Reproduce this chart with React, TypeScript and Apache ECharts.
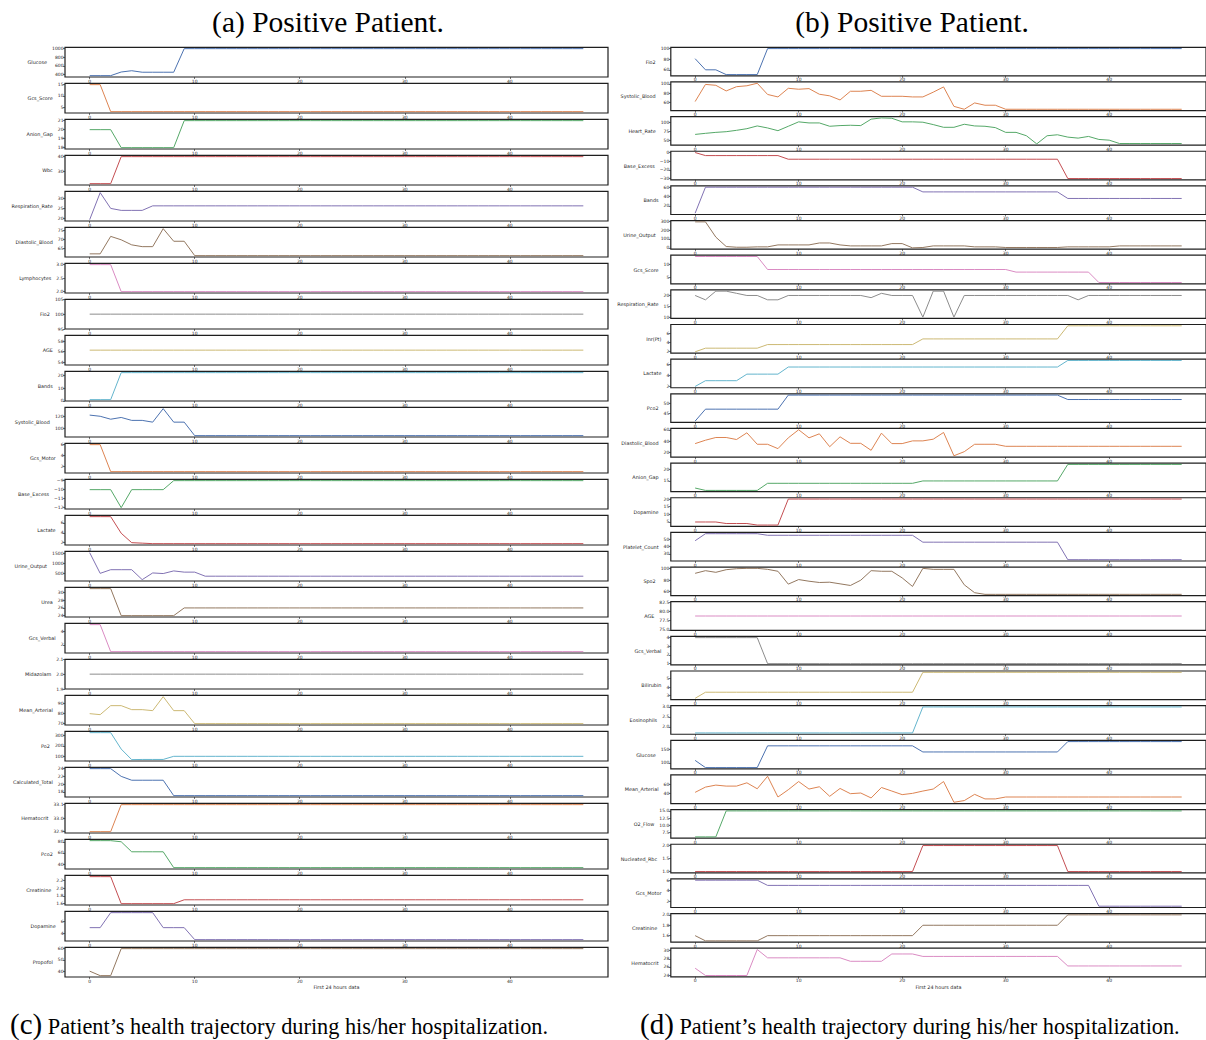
import React, { useEffect, useRef } from "react";
import * as echarts from "echarts";

const PALETTE = ["#4C72B0", "#DD8452", "#55A868", "#C44E52", "#8172B3", "#937860", "#DA8BC3", "#8C8C8C", "#CCB974", "#64B5CD"];
const X_TICKS = [0, 10, 20, 30, 40];

// ---------- (a)/(c) left patient ----------
const glucoseL = [370,370,370,455,485,450,450,450,450,1000,1000,1000,
1000,1000,1000,1000,1000,1000,1000,1000,1000,1000,1000,1000,
1000,1000,1000,1000,1000,1000,1000,1000,1000,1000,1000,1000,
1000,1000,1000,1000,1000,1000,1000,1000,1000,1000,1000,1000];
const gcsScoreL = [15,15,3,3,3,3,3,3,3,3,3,3,
3,3,3,3,3,3,3,3,3,3,3,3,
3,3,3,3,3,3,3,3,3,3,3,3,
3,3,3,3,3,3,3,3,3,3,3,3];
const anionGapL = [20,20,20,18,18,18,18,18,18,21,21,21,
21,21,21,21,21,21,21,21,21,21,21,21,
21,21,21,21,21,21,21,21,21,21,21,21,
21,21,21,21,21,21,21,21,21,21,21,21];
const wbcL = [21.5,21.5,21.5,40,40,40,40,40,40,40,40,40,
40,40,40,40,40,40,40,40,40,40,40,40,
40,40,40,40,40,40,40,40,40,40,40,40,
40,40,40,40,40,40,40,40,40,40,40,40];
const respRateL = [19.3,33,25,24,24,24,26.3,26.3,26.3,26.3,26.3,26.3,
26.3,26.3,26.3,26.3,26.3,26.3,26.3,26.3,26.3,26.3,26.3,26.3,
26.3,26.3,26.3,26.3,26.3,26.3,26.3,26.3,26.3,26.3,26.3,26.3,
26.3,26.3,26.3,26.3,26.3,26.3,26.3,26.3,26.3,26.3,26.3,26.3];
const diastolicL = [62,62,71.7,69.8,67,66,66,76,69,69,61,61,
61,61,61,61,61,61,61,61,61,61,61,61,
61,61,61,61,61,61,61,61,61,61,61,61,
61,61,61,61,61,61,61,61,61,61,61,61];
const lymphoL = [3,3,3,2,2,2,2,2,2,2,2,2,
2,2,2,2,2,2,2,2,2,2,2,2,
2,2,2,2,2,2,2,2,2,2,2,2,
2,2,2,2,2,2,2,2,2,2,2,2];
const fio2L = [100,100,100,100,100,100,100,100,100,100,100,100,
100,100,100,100,100,100,100,100,100,100,100,100,
100,100,100,100,100,100,100,100,100,100,100,100,
100,100,100,100,100,100,100,100,100,100,100,100];
const ageL = [56.3,56.3,56.3,56.3,56.3,56.3,56.3,56.3,56.3,56.3,56.3,56.3,
56.3,56.3,56.3,56.3,56.3,56.3,56.3,56.3,56.3,56.3,56.3,56.3,
56.3,56.3,56.3,56.3,56.3,56.3,56.3,56.3,56.3,56.3,56.3,56.3,
56.3,56.3,56.3,56.3,56.3,56.3,56.3,56.3,56.3,56.3,56.3,56.3];
const bandsL = [1,1,1,22,22,22,22,22,22,22,22,22,
22,22,22,22,22,22,22,22,22,22,22,22,
22,22,22,22,22,22,22,22,22,22,22,22,
22,22,22,22,22,22,22,22,22,22,22,22];
const systolicL = [122,120,115,118,113,113,110,133,110,110,87,87,
87,87,87,87,87,87,87,87,87,87,87,87,
87,87,87,87,87,87,87,87,87,87,87,87,
87,87,87,87,87,87,87,87,87,87,87,87];
const gcsMotorL = [6,6,1,1,1,1,1,1,1,1,1,1,
1,1,1,1,1,1,1,1,1,1,1,1,
1,1,1,1,1,1,1,1,1,1,1,1,
1,1,1,1,1,1,1,1,1,1,1,1];
const baseExcessL = [-10,-10,-10,-12,-10,-10,-10,-10,-9,-9,-9,-9,
-9,-9,-9,-9,-9,-9,-9,-9,-9,-9,-9,-9,
-9,-9,-9,-9,-9,-9,-9,-9,-9,-9,-9,-9,
-9,-9,-9,-9,-9,-9,-9,-9,-9,-9,-9,-9];
const lactateL = [7.25,7.25,7.25,3.9,2.0,1.9,1.8,1.8,1.8,1.8,1.8,1.8,
1.8,1.8,1.8,1.8,1.8,1.8,1.8,1.8,1.8,1.8,1.8,1.8,
1.8,1.8,1.8,1.8,1.8,1.8,1.8,1.8,1.8,1.8,1.8,1.8,
1.8,1.8,1.8,1.8,1.8,1.8,1.8,1.8,1.8,1.8,1.8,1.8];
const urineL = [1520,500,680,680,680,190,520,490,620,560,560,360,
360,360,360,360,360,360,360,360,360,360,360,360,
360,360,360,360,360,360,360,360,360,360,360,360,
360,360,360,360,360,360,360,360,360,360,360,360];
const ureaL = [31,31,31,24,24,24,24,24,24,26,26,26,
26,26,26,26,26,26,26,26,26,26,26,26,
26,26,26,26,26,26,26,26,26,26,26,26,
26,26,26,26,26,26,26,26,26,26,26,26];
const gcsVerbalL = [5,5,1,1,1,1,1,1,1,1,1,1,
1,1,1,1,1,1,1,1,1,1,1,1,
1,1,1,1,1,1,1,1,1,1,1,1,
1,1,1,1,1,1,1,1,1,1,1,1];
const midazolamL = [2,2,2,2,2,2,2,2,2,2,2,2,
2,2,2,2,2,2,2,2,2,2,2,2,
2,2,2,2,2,2,2,2,2,2,2,2,
2,2,2,2,2,2,2,2,2,2,2,2];
const meanArtL = [80,79,88,88,84,84,83,97,83,83,70,70,
70,70,70,70,70,70,70,70,70,70,70,70,
70,70,70,70,70,70,70,70,70,70,70,70,
70,70,70,70,70,70,70,70,70,70,70,70];
const po2L = [328,328,328,170,68,70,70,70,100,100,100,100,
100,100,100,100,100,100,100,100,100,100,100,100,
100,100,100,100,100,100,100,100,100,100,100,100,
100,100,100,100,100,100,100,100,100,100,100,100];
const calcTotalL = [24,24,24,22,21,21,21,21,17,17,17,17,
17,17,17,17,17,17,17,17,17,17,17,17,
17,17,17,17,17,17,17,17,17,17,17,17,
17,17,17,17,17,17,17,17,17,17,17,17];
const hematocritL = [32.9,32.9,32.9,33.1,33.1,33.1,33.1,33.1,33.1,33.1,33.1,33.1,
33.1,33.1,33.1,33.1,33.1,33.1,33.1,33.1,33.1,33.1,33.1,33.1,
33.1,33.1,33.1,33.1,33.1,33.1,33.1,33.1,33.1,33.1,33.1,33.1,
33.1,33.1,33.1,33.1,33.1,33.1,33.1,33.1,33.1,33.1,33.1,33.1];
const pco2L = [82,82,82,80,62,62,62,62,33.5,33.5,33.5,33.5,
33.5,33.5,33.5,33.5,33.5,33.5,33.5,33.5,33.5,33.5,33.5,33.5,
33.5,33.5,33.5,33.5,33.5,33.5,33.5,33.5,33.5,33.5,33.5,33.5,
33.5,33.5,33.5,33.5,33.5,33.5,33.5,33.5,33.5,33.5,33.5,33.5];
const creatinineL = [2.3,2.3,2.3,1.6,1.6,1.6,1.6,1.6,1.6,1.7,1.7,1.7,
1.7,1.7,1.7,1.7,1.7,1.7,1.7,1.7,1.7,1.7,1.7,1.7,
1.7,1.7,1.7,1.7,1.7,1.7,1.7,1.7,1.7,1.7,1.7,1.7,
1.7,1.7,1.7,1.7,1.7,1.7,1.7,1.7,1.7,1.7,1.7,1.7];
const dopamineL = [5,5,7.5,7.5,7.5,7.5,7.5,5,5,5,3,3,
3,3,3,3,3,3,3,3,3,3,3,3,
3,3,3,3,3,3,3,3,3,3,3,3,
3,3,3,3,3,3,3,3,3,3,3,3];
const propofolL = [40,36,36,60,60,60,60,60,60,60,60,60,
60,60,60,60,60,60,60,60,60,60,60,60,
60,60,60,60,60,60,60,60,60,60,60,60,
60,60,60,60,60,60,60,60,60,60,60,60];

const LEFT_NAMES = ["Glucose","Gcs_Score","Anion_Gap","Wbc","Respiration_Rate","Diastolic_Blood","Lymphocytes","Fio2","AGE","Bands","Systolic_Blood","Gcs_Motor","Base_Excess","Lactate","Urine_Output","Urea","Gcs_Verbal","Midazolam","Mean_Arterial","Po2","Calculated_Total","Hematocrit","Pco2","Creatinine","Dopamine","Propofol"];
const LEFT_VALUES = [glucoseL,gcsScoreL,anionGapL,wbcL,respRateL,diastolicL,lymphoL,fio2L,ageL,bandsL,systolicL,gcsMotorL,baseExcessL,lactateL,urineL,ureaL,gcsVerbalL,midazolamL,meanArtL,po2L,calcTotalL,hematocritL,pco2L,creatinineL,dopamineL,propofolL];
const LEFT_TICKS = [[400,600,800,1000],[5,10,15],[18,19,20,21],[30,40],[20,25,30],[65,70,75],[2.0,2.5,3.0],[95,100,105],[54,56,58],[0,10,20],[100,120],[2,4,6],[-12,-11,-10,-9],[2,4,6],[500,1000,1500],[24,26,28,30],[2,4],[1.9,2.0,2.1],[70,80,90],[100,200,300],[18,20,22,24],[32.9,33.0,33.1],[40,60,80],[1.6,1.8,2.0,2.2],[4,6],[40,50,60]];
const LEFT_DEC = [0,0,0,0,0,0,1,0,0,0,0,0,0,0,0,0,0,1,0,0,0,1,0,1,0,0];

// ---------- (b)/(d) right patient ----------
const fio2R = [81,60,60,51,51,51,51,100,100,100,100,100,
100,100,100,100,100,100,100,100,100,100,100,100,
100,100,100,100,100,100,100,100,100,100,100,100,
100,100,100,100,100,100,100,100,100,100,100,100];
const systolicR = [61.5,99,97,84.7,94,96,101.5,77,71.6,90.5,88.4,89.8,
77.5,74,65,84,84,86,73,73,73,71.6,71.6,82,
93.5,51,44.7,58.5,53.5,53.5,44.7,44.7,44.7,44.7,44.7,44.7,
44.7,44.7,44.7,44.7,44.7,44.7,44.7,44.7,44.7,44.7,44.7,44.7];
const heartR = [66,69,71.7,73.6,77.4,82,89.6,84,76.4,88.7,101,98,
98,88.7,90.6,91.5,90.6,108.5,112,111,101,101,100,93.4,
85.8,85.8,94.3,89.6,88.7,85,71.7,71.7,62.3,39.6,62.3,65,
58.5,55.7,60.4,52,50,40.6,40.6,40.6,40.6,40.6,40.6,40.6];
const baseExcessR = [0,-3.5,-3.5,-3.5,-3.5,-3.5,-3.5,-3.5,-3.5,-7.7,-7.7,-7.7,
-7.7,-7.7,-7.7,-7.7,-7.7,-7.7,-7.7,-7.7,-7.7,-7.7,-7.7,-7.7,
-7.7,-7.7,-7.7,-7.7,-7.7,-7.7,-7.7,-7.7,-7.7,-7.7,-7.7,-7.7,
-30,-30,-30,-30,-30,-30,-30,-30,-30,-30,-30,-30];
const bandsR = [4.6,60,60,60,60,60,60,60,60,60,60,60,
60,60,60,60,60,60,60,60,60,60,50,50,
50,50,50,50,50,50,50,50,50,50,50,50,
36,36,36,36,36,36,36,36,36,36,36,36];
const urineR = [293,293,121,15,7,7,11,11,33,33,33,33,
55,55,33,22,22,22,22,48,48,0,4,22,
22,22,22,11,11,11,4,4,4,4,4,4,
11,11,11,11,11,22,22,22,22,22,22,22];
const gcsScoreR = [13,13,13,13,13,13,13,8,8,8,8,8,
8,8,8,8,8,8,8,8,8,8,8,8,
8,8,8,8,8,8,8,7,7,7,7,7,
7,7,7,3,3,3,3,3,3,3,3,3];
const respR = [20,18,22,22,21,20,20,18,18,20,20,20,
20,20,20,20,20,19,21,20,20,20,10,22,
22,10,20,20,20,20,20,20,20,20,20,20,
20,18,20,20,20,20,20,20,20,20,20,20];
const inrR = [1.85,2.65,2.65,2.65,2.65,2.65,2.65,3.45,3.45,3.45,3.45,3.45,
3.45,3.45,3.45,3.45,3.45,3.45,3.45,3.45,3.45,3.45,4.7,4.7,
4.7,4.7,4.7,4.7,4.7,4.7,4.7,4.7,4.7,4.7,4.7,4.7,
7.6,7.6,7.6,7.6,7.6,7.6,7.6,7.6,7.6,7.6,7.6,7.6];
const lactateR = [1.95,3,3,3,3,4.2,4.2,4.2,4.2,5.5,5.5,5.5,
5.5,5.5,5.5,5.5,5.5,5.5,5.5,5.5,5.5,5.5,5.5,5.5,
5.5,5.5,5.5,5.5,5.5,5.5,5.5,5.5,5.5,5.5,5.5,5.5,
6.7,6.7,6.7,6.7,6.7,6.7,6.7,6.7,6.7,6.7,6.7,6.7];
const pco2R = [40.8,47,47,47,47,47,47,47,47,54.3,54.3,54.3,
54.3,54.3,54.3,54.3,54.3,54.3,54.3,54.3,54.3,54.3,54.3,54.3,
54.3,54.3,54.3,54.3,54.3,54.3,54.3,54.3,54.3,54.3,54.3,54.3,
52,52,52,52,52,52,52,52,52,52,52,52];
const diastolicR = [35.5,41.5,46.3,46.3,42.7,54.6,34.3,34.3,26.6,45.7,60,45.7,
52.8,30,47.5,36,36,23.6,54,35.5,35.5,40.3,40.3,43.3,
55.2,14,21.2,34.3,34.3,34.3,30.7,30.7,30.7,30.7,30.7,30.7,
30.7,30.7,30.7,30.7,30.7,30.7,30.7,30.7,30.7,30.7,30.7,30.7];
const anionR = [12,11,11,11,11,11,11,14,14,14,14,14,
14,14,14,14,14,14,14,14,14,14,15,15,
15,15,15,15,15,15,15,15,15,15,15,15,
22,22,22,22,22,22,22,22,22,22,22,22];
const dopamineR = [5,5,5,4,4,4,3,3,3,20,20,20,
20,20,20,20,20,20,20,20,20,20,20,20,
20,20,20,20,20,20,20,20,20,20,20,20,
20,20,20,20,20,20,20,20,20,20,20,20];
const plateletR = [48,57.7,57.7,57.7,57.7,57.7,57.7,55.5,55.5,55.5,55.5,55.5,
55.5,55.5,55.5,55.5,55.5,55.5,55.5,55.5,55.5,55.5,46,46,
46,46,46,46,46,46,46,46,46,46,46,46,
21.8,21.8,21.8,21.8,21.8,21.8,21.8,21.8,21.8,21.8,21.8,21.8];
const spo2R = [91.5,96,93.2,97.7,99.4,100,100,98.3,95,73,80.8,78,
75.8,76.3,73.5,70.7,79.7,96,95,95,83.7,69,100,98.3,
98.3,98.3,71.8,58.3,55.5,55.5,55.5,55.5,55.5,55.5,55.5,55.5,
55.5,55.5,55.5,55.5,55.5,55.5,55.5,55.5,55.5,55.5,55.5,55.5];
const ageR = [78.8,78.8,78.8,78.8,78.8,78.8,78.8,78.8,78.8,78.8,78.8,78.8,
78.8,78.8,78.8,78.8,78.8,78.8,78.8,78.8,78.8,78.8,78.8,78.8,
78.8,78.8,78.8,78.8,78.8,78.8,78.8,78.8,78.8,78.8,78.8,78.8,
78.8,78.8,78.8,78.8,78.8,78.8,78.8,78.8,78.8,78.8,78.8,78.8];
const gcsVerbalR = [4,4,4,4,4,4,4,1,1,1,1,1,
1,1,1,1,1,1,1,1,1,1,1,1,
1,1,1,1,1,1,1,1,1,1,1,1,
1,1,1,1,1,1,1,1,1,1,1,1];
const bilirubinR = [2.7,3.4,3.4,3.4,3.4,3.4,3.4,3.4,3.4,3.4,3.4,3.4,
3.4,3.4,3.4,3.4,3.4,3.4,3.4,3.4,3.4,3.4,5.7,5.7,
5.7,5.7,5.7,5.7,5.7,5.7,5.7,5.7,5.7,5.7,5.7,5.7,
5.7,5.7,5.7,5.7,5.7,5.7,5.7,5.7,5.7,5.7,5.7,5.7];
const eosR = [1.7,1.7,1.7,1.7,1.7,1.7,1.7,1.7,1.7,1.7,1.7,1.7,
1.7,1.7,1.7,1.7,1.7,1.7,1.7,1.7,1.7,1.7,3,3,
3,3,3,3,3,3,3,3,3,3,3,3,
3,3,3,3,3,3,3,3,3,3,3,3];
const glucoseR = [109.5,83,83,83,83,83,83,163,163,163,163,163,
163,163,163,163,163,163,163,163,163,163,140.5,140.5,
140.5,140.5,140.5,140.5,140.5,140.5,140.5,140.5,140.5,140.5,140.5,140.5,
178.6,178.6,178.6,178.6,178.6,178.6,178.6,178.6,178.6,178.6,178.6,178.6];
const meanArtR = [42.8,53.8,58,55.9,55.9,62.8,50.3,76.6,33,48.3,65.5,49.7,
54.5,34.5,51,40,41.4,31,53,45.5,38,40.7,45.5,49.7,
65.5,22,25.5,38.6,29,29,33,33,33,33,33,33,
33,33,33,33,33,33,33,33,33,33,33,33];
const o2FlowR = [6,6,6,15,15,15,15,15,15,15,15,15,
15,15,15,15,15,15,15,15,15,15,15,15,
15,15,15,15,15,15,15,15,15,15,15,15,
15,15,15,15,15,15,15,15,15,15,15,15];
const nucleatedR = [1,1,1,1,1,1,1,1,1,1,1,1,
1,1,1,1,1,1,1,1,1,1,2,2,
2,2,2,2,2,2,2,2,2,2,2,2,
1,1,1,1,1,1,1,1,1,1,1,1];
const gcsMotorR = [6,6,6,6,6,6,6,5,5,5,5,5,
5,5,5,5,5,5,5,5,5,5,5,5,
5,5,5,5,5,5,5,5,5,5,5,5,
5,5,5,1,1,1,1,1,1,1,1,1];
const creatinineR = [1.6,1.5,1.5,1.5,1.5,1.5,1.5,1.6,1.6,1.6,1.6,1.6,
1.6,1.6,1.6,1.6,1.6,1.6,1.6,1.6,1.6,1.6,1.8,1.8,
1.8,1.8,1.8,1.8,1.8,1.8,1.8,1.8,1.8,1.8,1.8,1.8,
2.0,2.0,2.0,2.0,2.0,2.0,2.0,2.0,2.0,2.0,2.0,2.0];
const hematocritR = [25.7,23.9,23.9,23.9,23.9,23.9,30.3,28.25,28.25,28.25,28.25,28.25,
28.25,28.25,28.25,27.4,27.4,27.4,27.4,29.2,29.2,29.2,28.6,28.6,
28.6,28.6,28.6,28.6,28.6,28.6,28.6,28.6,28.6,28.6,28.6,28.6,
26.25,26.25,26.25,26.25,26.25,26.25,26.25,26.25,26.25,26.25,26.25,26.25];

const RIGHT_NAMES = ["Fio2","Systolic_Blood","Heart_Rate","Base_Excess","Bands","Urine_Output","Gcs_Score","Respiration_Rate","Inr(Pt)","Lactate","Pco2","Diastolic_Blood","Anion_Gap","Dopamine","Platelet_Count","Spo2","AGE","Gcs_Verbal","Bilirubin","Eosinophils","Glucose","Mean_Arterial","O2_Flow","Nucleated_Rbc","Gcs_Motor","Creatinine","Hematocrit"];
const RIGHT_VALUES = [fio2R,systolicR,heartR,baseExcessR,bandsR,urineR,gcsScoreR,respR,inrR,lactateR,pco2R,diastolicR,anionR,dopamineR,plateletR,spo2R,ageR,gcsVerbalR,bilirubinR,eosR,glucoseR,meanArtR,o2FlowR,nucleatedR,gcsMotorR,creatinineR,hematocritR];
const RIGHT_TICKS = [[60,80,100],[60,80,100],[50,75,100],[-30,-20,-10,0],[20,40,60],[0,100,200,300],[5,10],[10,15,20],[2,4,6],[2,4,6],[45,50],[20,40,60],[15,20],[5,10,15,20],[30,40,50],[60,80,100],[75.0,77.5,80.0,82.5],[1,2,3,4],[3,4,5],[2.0,2.5,3.0],[100,150],[40,60],[7.5,10.0,12.5,15.0],[1.0,1.5,2.0],[2,4,6],[1.6,1.8,2.0],[24,26,28,30]];
const RIGHT_DEC = [0,0,0,0,0,0,0,0,0,0,0,0,0,0,0,0,1,0,0,1,0,0,1,1,0,1,0];

const AX_FONT = "DejaVu Sans";
const TICK_FS = 4.5;
const NAME_FS = 4.9;
const INK = "#1f1f1f";

function fmt(v: number, dec: number) {
  return v.toFixed(dec).replace("-", "\u2212");
}

export default function App() {
  const ref = useRef<HTMLDivElement>(null);
  useEffect(() => {
    if (!ref.current) return;
    const chart = echarts.init(ref.current, undefined, { renderer: "svg" });
    const canvas = document.createElement("canvas");
    const ctx = canvas.getContext("2d")!;
    ctx.font = `${TICK_FS}px "${AX_FONT}"`;

    const grid: any[] = [];
    const xAxis: any[] = [];
    const yAxis: any[] = [];
    const series: any[] = [];

    const build = (names: string[], values: number[][], ticks: number[][], decs: number[], lay: any) => {
      names.forEach((name, i) => {
        const gi = grid.length;
        const dec = decs[i];
        const labels = ticks[i].map((t) => fmt(t, dec));
        const maxW = Math.max(...labels.map((l) => ctx.measureText(l).width));
        const isLast = i === names.length - 1;
        grid.push({
          left: lay.left,
          top: lay.top0 + i * lay.pitch,
          width: lay.width,
          height: lay.height,
          show: true,
          borderColor: INK,
          borderWidth: 1.2,
          backgroundColor: "transparent",
        });
        xAxis.push({
          gridIndex: gi,
          type: "value",
          min: -2.35,
          max: 49.35,
          axisLine: { show: false, onZero: false },
          splitLine: { show: false },
          axisPointer: { show: false },
          axisTick: { show: true, customValues: X_TICKS, length: 2, lineStyle: { color: INK, width: 0.6 } },
          axisLabel: { customValues: X_TICKS, fontSize: TICK_FS, fontFamily: AX_FONT, color: INK, margin: 1.5 },
          name: isLast ? "First 24 hours data" : "",
          nameLocation: "middle",
          nameGap: 7,
          nameTextStyle: { fontSize: 4.9, fontFamily: AX_FONT, color: INK },
        });
        yAxis.push({
          gridIndex: gi,
          type: "value",
          min: (e: any) => (e.max === e.min ? e.min - Math.abs(e.min) * 0.05 : e.min - (e.max - e.min) * 0.05),
          max: (e: any) => (e.max === e.min ? e.max + Math.abs(e.max) * 0.05 : e.max + (e.max - e.min) * 0.05),
          axisLine: { show: false, onZero: false },
          splitLine: { show: false },
          axisPointer: { show: false },
          axisTick: { show: true, customValues: ticks[i], length: 2, lineStyle: { color: INK, width: 0.6 } },
          axisLabel: {
            customValues: ticks[i],
            formatter: (v: number) => fmt(v, dec),
            fontSize: TICK_FS,
            fontFamily: AX_FONT,
            color: INK,
            margin: 1.5,
          },
          name,
          nameLocation: "middle",
          nameRotate: 0,
          nameGap: 3.5 + maxW + 3,
          nameTextStyle: { fontSize: NAME_FS, fontFamily: AX_FONT, color: INK, align: "right", verticalAlign: "middle" },
        });
        const color = PALETTE[i % PALETTE.length];
        series.push({
          type: "line",
          xAxisIndex: gi,
          yAxisIndex: gi,
          data: values[i].map((v, k) => [k, v]),
          showSymbol: false,
          symbol: "none",
          lineStyle: { width: 1, color },
          itemStyle: { color },
          emphasis: { disabled: true },
        });
      });
    };

    build(LEFT_NAMES, LEFT_VALUES, LEFT_TICKS, LEFT_DEC, { left: 65, width: 543, top0: 47.3, pitch: 36.0, height: 29.7 });
    build(RIGHT_NAMES, RIGHT_VALUES, RIGHT_TICKS, RIGHT_DEC, { left: 670.8, width: 553.7, top0: 47.3, pitch: 34.65, height: 28.6 });

    const serif = "Liberation Serif";
    const caption = (label: string, x: number) => ({
      type: "text",
      x,
      y: 1024,
      style: {
        text: `{c|${label}} {t|Patient\u2019s health trajectory during his/her hospitalization.}`,
        fontSize: 22.3, fontFamily: serif, fill: "#000", align: "left", verticalAlign: "middle", lineHeight: 26,
        rich: {
          c: { fontSize: 29, fontFamily: serif, fill: "#000", verticalAlign: "middle", lineHeight: 26 },
          t: { fontSize: 22.3, fontFamily: serif, fill: "#000", verticalAlign: "middle", padding: [4, 0, 0, 0], lineHeight: 26 },
        },
      },
    });
    chart.setOption({
      animation: false,
      backgroundColor: "#ffffff",
      tooltip: { show: false },
      grid,
      xAxis,
      yAxis,
      series,
      graphic: [
        { type: "text", x: 328, y: 22, style: { text: "(a) Positive Patient.", fontSize: 29.5, fontFamily: serif, fill: "#000", align: "center", verticalAlign: "middle" } },
        { type: "text", x: 912, y: 22, style: { text: "(b) Positive Patient.", fontSize: 29.5, fontFamily: serif, fill: "#000", align: "center", verticalAlign: "middle" } },
        caption("(c)", 10),
        caption("(d)", 640),
      ],
    });
    return () => chart.dispose();
  }, []);
  return <div ref={ref} style={{ position: "absolute", left: 0, top: 0, width: 1206, height: 1040 }} />;
}
